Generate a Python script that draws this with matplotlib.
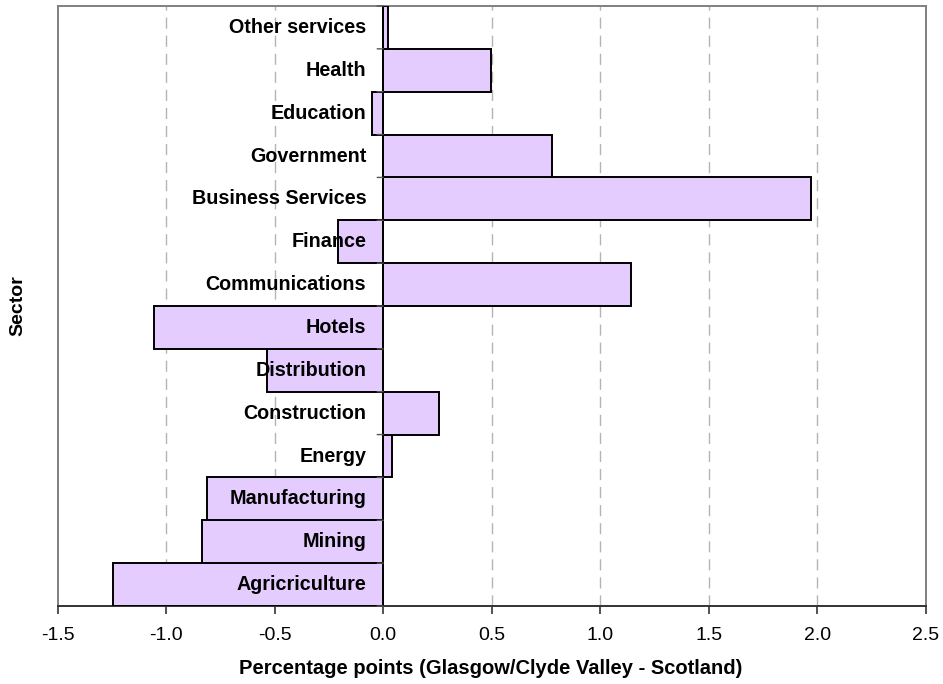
import matplotlib
matplotlib.use("Agg")
import matplotlib.pyplot as plt
import matplotlib.transforms as mtransforms

sectors = ["Agricriculture", "Mining", "Manufacturing", "Energy", "Construction",
           "Distribution", "Hotels", "Communications", "Finance", "Business Services",
           "Government", "Education", "Health", "Other services"]
values = [-1.245, -0.835, -0.81, 0.041, 0.257, -0.534, -1.056, 1.14, -0.208,
          1.97, 0.776, -0.052, 0.495, 0.022]
xticks = [-1.5, -1.0, -0.5, 0.0, 0.5, 1.0, 1.5, 2.0, 2.5]
xticklabels = ["-1.5", "-1.0", "-0.5", "0.0", "0.5", "1.0", "1.5", "2.0", "2.5"]

plt.rcParams['font.family'] = ['Liberation Sans', 'DejaVu Sans']

fig = plt.figure(figsize=(9.43, 6.84), dpi=100)
ax = fig.add_axes([57.5/943, 1-606/684, (926-57.5)/943, 600/684])

pos = list(range(len(sectors)))
ax.barh(pos, values, height=1.0, color='#E5CCFF', edgecolor='black',
        linewidth=1.4, zorder=3)

ax.set_xlim(-1.5, 2.5)
ax.set_ylim(-0.5, len(sectors) - 0.5)
ax.set_xticks(xticks)
ax.set_xticklabels(xticklabels, fontsize=14)
ax.set_yticks([])

for x in xticks:
    if x not in (-1.5, 0.0, 2.5):
        ax.axvline(x, color='#B4B4B4', linestyle=(0, (8, 5)), linewidth=1.0, zorder=1)

# vertical category axis at x=0 with tick marks
ax.axvline(0, color='black', linewidth=1.4, zorder=4)
for i in range(len(sectors) + 1):
    yb = i - 0.5
    ax.annotate("", xy=(0, yb), xycoords='data',
                xytext=(-6, 0), textcoords='offset pixels',
                arrowprops=dict(arrowstyle='-', color='#555555', lw=1.0,
                                shrinkA=0, shrinkB=0), zorder=4)

label_tr = mtransforms.offset_copy(ax.transData, fig=fig, x=-17, y=0, units='dots')
for p, name in zip(pos, sectors):
    ax.text(0, p, name, transform=label_tr, ha='right', va='center',
            fontsize=14.2, fontweight='bold', zorder=5)

for s in ['top', 'left', 'right']:
    ax.spines[s].set_color('#808080')
    ax.spines[s].set_linewidth(1.4)
ax.spines['bottom'].set_color('#333333')
ax.spines['bottom'].set_linewidth(1.4)
ax.tick_params(axis='x', direction='out', length=6, width=1.2, color='#333333', pad=9)

fig.text(491/943, 1-668/684, "Percentage points (Glasgow/Clyde Valley - Scotland)",
         ha='center', va='center', fontsize=14.5, fontweight='bold')
fig.text(18/943, 1-306/684, "Sector", ha='center', va='center', rotation=90,
         fontsize=14, fontweight='bold')

fig.savefig("out.png", dpi=100)
